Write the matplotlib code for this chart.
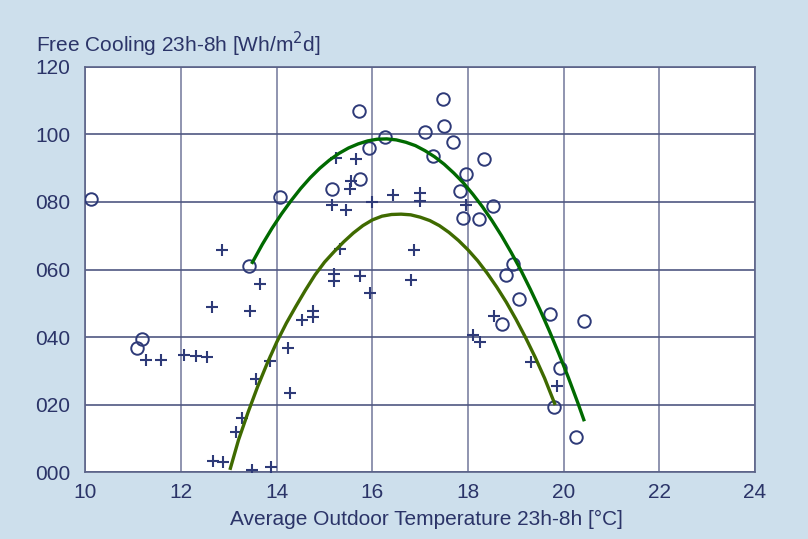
import matplotlib
matplotlib.use("Agg")
import matplotlib.pyplot as plt

plt.rcParams['font.family'] = ['Liberation Sans', 'DejaVu Sans']

# measured nights, circles (series 1)
circle_x = [10.12, 11.08, 11.18, 13.41, 14.07, 15.72, 15.16, 15.74, 15.93, 16.27,
            17.10, 17.48, 17.50, 17.69, 17.26, 18.33, 17.95, 17.83, 18.52, 17.90,
            18.22, 18.94, 18.79, 19.06, 19.71, 20.43, 18.71, 19.93, 19.80, 20.26]
circle_y = [80.8, 36.8, 39.5, 61.0, 81.4, 107.0, 83.8, 86.8, 96.0, 99.2,
            100.8, 110.5, 102.6, 97.7, 93.5, 92.7, 88.3, 83.3, 78.7, 75.4,
            74.9, 61.5, 58.5, 51.4, 46.7, 44.7, 44.0, 30.8, 19.2, 10.4]

# measured nights, crosses (series 2)
plus_x = [11.27, 11.58, 12.06, 12.31, 12.55, 12.65, 12.85, 12.67, 12.88, 13.15,
          13.27, 13.43, 13.48, 13.56, 13.65, 13.86, 13.87, 14.23, 14.28, 14.52,
          14.75, 14.75, 15.15, 15.45, 15.24, 15.65, 15.55, 15.54, 16.00, 16.42,
          17.00, 17.00, 17.95, 15.32, 16.86, 15.20, 15.20, 15.74, 15.95, 16.81,
          18.55, 18.10, 18.24, 19.32, 19.86]
plus_y = [33.1, 33.3, 34.8, 34.3, 34.0, 48.8, 65.8, 3.4, 2.9, 12.0,
          16.0, 47.6, 0.6, 27.6, 55.6, 33.0, 1.6, 36.6, 23.4, 45.0,
          47.6, 46.0, 79.0, 77.6, 93.0, 92.6, 86.3, 83.8, 79.9, 82.0,
          82.8, 80.3, 79.0, 66.2, 65.8, 58.8, 56.6, 58.0, 52.9, 56.8,
          46.2, 40.7, 38.4, 32.5, 25.6]

# trend curves
upper_x = [13.49, 13.7, 13.9, 14.1, 14.3, 14.5, 14.7, 14.9, 15.1, 15.3,
           15.5, 15.7, 15.9, 16.1, 16.3, 16.5, 16.7, 16.9, 17.1, 17.3,
           17.5, 17.7, 17.9, 18.1, 18.3, 18.5, 18.7, 18.9, 19.1, 19.3,
           19.5, 19.7, 19.9, 20.1, 20.3, 20.42]
upper_y = [62.1, 67.5, 72.2, 76.5, 80.4, 84.0, 87.2, 90.0, 92.4, 94.4,
           96.0, 97.2, 98.1, 98.6, 98.7, 98.4, 97.7, 96.7, 95.2, 93.4,
           91.2, 88.6, 85.7, 82.3, 78.6, 74.5, 70.0, 65.1, 59.9, 54.2,
           48.2, 41.8, 35.0, 27.9, 20.3, 15.5]
lower_x = [13.03, 13.2, 13.4, 13.6, 13.8, 14.0, 14.2, 14.4, 14.6, 14.8,
           15.0, 15.2, 15.4, 15.6, 15.8, 16.0, 16.2, 16.4, 16.6, 16.8,
           17.0, 17.2, 17.4, 17.6, 17.8, 18.0, 18.2, 18.4, 18.6, 18.8,
           19.0, 19.2, 19.4, 19.6, 19.81]
lower_y = [1.1, 9.5, 17.7, 25.3, 32.2, 38.5, 44.1, 49.1, 53.9, 58.4,
           62.2, 65.3, 68.2, 70.8, 73.0, 74.7, 75.8, 76.3, 76.4, 76.2,
           75.5, 74.5, 73.0, 71.0, 68.6, 65.8, 62.6, 58.9, 54.8, 50.3,
           45.3, 39.9, 34.1, 27.8, 20.3]

x_ticks = [10, 12, 14, 16, 18, 20, 22, 24]
y_ticks = [0, 20, 40, 60, 80, 100, 120]
y_labels = ['000', '020', '040', '060', '080', '100', '120']

bg = '#cddfec'
navy = '#2b3468'

fig = plt.figure(figsize=(8.08, 5.39), dpi=100, facecolor=bg)
ax = fig.add_axes([0.1058, 0.1243, 0.8286, 0.7514])
ax.set_facecolor('white')

ax.plot(circle_x, circle_y, 'o', mfc='none', mec='#2e3a78', ms=9, mew=1.4, zorder=3)
ax.plot(plus_x, plus_y, '+', color='#2e3a78', ms=8, mew=1.5, zorder=3)
ax.plot(upper_x, upper_y, color='#006a00', lw=2.4, zorder=4)
ax.plot(lower_x, lower_y, color='#3f6a00', lw=2.4, zorder=4)

ax.set_xlim(10, 24)
ax.set_ylim(0, 120)
ax.set_xticks(x_ticks)
ax.set_yticks(y_ticks)
ax.set_yticklabels(y_labels)
ax.tick_params(length=0, labelsize=15, labelcolor=navy)
ax.tick_params(axis='x', pad=8)
ax.tick_params(axis='y', pad=11)

ax.grid(axis='x', color='#7d82a2', lw=1.2)
ax.grid(axis='y', color='#4f5782', lw=1.2)
ax.set_axisbelow(True)
for s in ax.spines.values():
    s.set_color('#5b6388')
    s.set_linewidth(1.2)

fig.text(0.045, 0.917, 'Free Cooling 23h-8h [Wh/m$^2$d]', fontsize=15, color=navy,
         ha='left', va='center')
fig.text(0.528, 0.037, 'Average Outdoor Temperature 23h-8h [°C]', fontsize=15,
         color=navy, ha='center', va='center')

fig.savefig('out.png', dpi=100, facecolor=bg)
